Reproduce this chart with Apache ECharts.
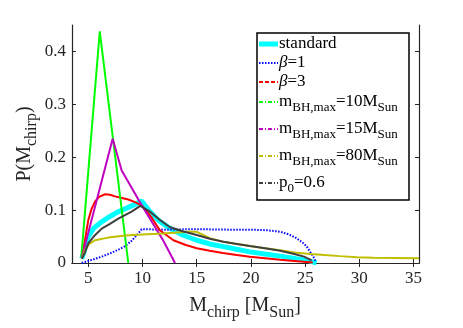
<!DOCTYPE html>
<html>
<head>
<meta charset="utf-8">
<script src="https://cdn.jsdelivr.net/npm/echarts@6/dist/echarts.min.js"></script>
<style>
  html, body { margin: 0; padding: 0; background: #fff; }
  #chart { width: 463px; height: 328px; }
</style>
</head>
<body>
<div id="chart"></div>
<script>
// tick labels
var xTicks = [5, 10, 15, 20, 25, 30, 35];
var yTicks = [0, 0.1, 0.2, 0.3, 0.4];

// curves, [M_chirp, P]
var standard = [[4.4, 0.008], [4.7, 0.028], [5.0, 0.05], [5.5, 0.066], [6.24, 0.078], [7.0, 0.088], [7.77, 0.097],
  [9.0, 0.108], [9.93, 0.117], [10.7, 0.097], [11.5, 0.08], [12.5, 0.066], [13.7, 0.053], [15.0, 0.043],
  [16.2, 0.036], [17.46, 0.031], [18.7, 0.026], [19.9, 0.021], [21.3, 0.017], [22.7, 0.013], [24.2, 0.008],
  [25.2, 0.005], [25.7, 0.002], [26.05, 0.0]];
var beta1 = [[4.4, 0.0], [4.7, 0.002], [5.5, 0.007], [6.24, 0.012], [7.0, 0.018], [7.77, 0.025], [8.4, 0.032],
  [9.0, 0.042], [9.5, 0.053], [9.93, 0.064], [12, 0.063], [15, 0.064], [18, 0.063], [20, 0.063], [21.5, 0.062],
  [22.7, 0.059], [23.5, 0.054], [24.2, 0.047], [24.8, 0.038], [25.15, 0.031], [25.5, 0.02], [25.76, 0.012],
  [26.0, 0.002]];
var beta3 = [[4.4, 0.01], [4.75, 0.05], [5.0, 0.081], [5.3, 0.102], [5.62, 0.116], [6.0, 0.125], [6.54, 0.130],
  [7.0, 0.129], [7.47, 0.126], [8.1, 0.123], [8.7, 0.12], [9.3, 0.115], [9.93, 0.109], [10.7, 0.09],
  [11.6, 0.062], [12.85, 0.043], [14.0, 0.034], [15.0, 0.028], [16.2, 0.023], [17.4, 0.019], [18.7, 0.015],
  [19.9, 0.012], [21.3, 0.009], [22.7, 0.006], [24.0, 0.004], [25.15, 0.002], [25.7, 0.001]];
var mMax10 = [[4.36, 0.012], [6.06, 0.438], [8.69, 0.0]];
var mMax15 = [[4.4, 0.01], [7.25, 0.235], [8.08, 0.175], [9.93, 0.109], [11.9, 0.043], [13.0, 0.0]];
var mMax80 = [[4.4, 0.008], [4.7, 0.025], [5.1, 0.036], [5.62, 0.043], [6.85, 0.048], [8.4, 0.052], [9.93, 0.054],
  [11.9, 0.056], [14.1, 0.059], [15.0, 0.059], [15.6, 0.053], [16.2, 0.047], [17.46, 0.04], [18.7, 0.036],
  [19.9, 0.032], [21.3, 0.028], [22.7, 0.024], [24.0, 0.02], [25.5, 0.017], [26.8, 0.015], [28.2, 0.013],
  [29.8, 0.011], [31.3, 0.010], [33.3, 0.0095], [35.5, 0.009]];
var p06 = [[4.4, 0.008], [4.7, 0.02], [5.0, 0.037], [5.5, 0.05], [6.24, 0.065], [7.0, 0.074], [7.77, 0.084],
  [9.0, 0.097], [9.8, 0.108], [10.7, 0.097], [11.5, 0.083], [12.5, 0.068], [13.7, 0.06], [15.0, 0.053],
  [16.2, 0.046], [17.46, 0.040], [18.7, 0.036], [19.9, 0.032], [21.3, 0.028], [22.7, 0.023], [24.0, 0.017],
  [24.9, 0.012], [25.6, 0.005]];

var serif = "Liberation Serif";
var axisColor = "#262626";

var chart = echarts.init(document.getElementById("chart"));

function line(name, data, color, width, type) {
  return {
    name: name,
    type: "line",
    data: data,
    showSymbol: false,
    silent: true,
    animation: false,
    lineStyle: { color: color, width: width, type: type || "solid" }
  };
}

// legend entries drawn by hand (matlab style box)
var legendRows = [
  { text: "standard", color: "#00ffff", width: 5, dash: null, y: 44 },
  { text: "{g|β}=1", color: "#0000ff", width: 2, dash: [1.5, 1.5], y: 63 },
  { text: "{g|β}=3", color: "#ff0000", width: 2, dash: [4, 2], y: 82 },
  { text: "m{s|BH,max}=10M{s|Sun}", color: "#00ff00", width: 2, dash: [4, 2, 1, 2], y: 102 },
  { text: "m{s|BH,max}=15M{s|Sun}", color: "#bf00bf", width: 2, dash: [4, 2, 1, 2], y: 129 },
  { text: "m{s|BH,max}=80M{s|Sun}", color: "#bfbf00", width: 2, dash: [4, 2, 1, 2], y: 156 },
  { text: "p{s|0}=0.6", color: "#404040", width: 2, dash: [4, 2, 1, 2], y: 183 }
];

var rich = {
  s: { fontFamily: serif, fontSize: 13, padding: [11, 0, 0, 0], fill: "#000" },
  g: { fontFamily: serif, fontSize: 17, fontStyle: "italic", fill: "#000" }
};

var graphics = [{
  type: "rect",
  shape: { x: 257, y: 33, width: 152, height: 167 },
  style: { fill: "#fff", stroke: "#000", lineWidth: 1.5 },
  z: 100
}];
legendRows.forEach(function (r) {
  graphics.push({
    type: "line",
    shape: { x1: 259, y1: r.y, x2: 278, y2: r.y },
    style: { stroke: r.color, lineWidth: r.width, lineDash: r.dash },
    z: 101
  });
  graphics.push({
    type: "text",
    x: 279,
    y: r.y,
    style: {
      text: r.text,
      rich: rich,
      font: "17px " + serif,
      fill: "#000",
      verticalAlign: "middle"
    },
    z: 101
  });
});

// axis titles
graphics.push({
  type: "text",
  x: 245,
  y: 306,
  style: {
    text: "M{s|chirp} [M{s|Sun}]",
    font: "20px " + serif,
    fill: axisColor,
    align: "center",
    verticalAlign: "middle",
    rich: { s: { fontFamily: serif, fontSize: 16, padding: [13, 0, 0, 0], fill: axisColor } }
  }
});
graphics.push({
  type: "text",
  x: 25,
  y: 144,
  rotation: Math.PI / 2,
  style: {
    text: "P(M{s|chirp})",
    font: "20px " + serif,
    fill: axisColor,
    align: "center",
    verticalAlign: "middle",
    rich: { s: { fontFamily: serif, fontSize: 16, padding: [13, 0, 0, 0], fill: axisColor } }
  }
});

var xMin = 3.5, xMax = 35.5, yMin = 0, yMax = 0.45;

var option = {
  animation: false,
  backgroundColor: "#fff",
  grid: { left: 72, right: 44, top: 25, bottom: 65 },
  xAxis: [
    {
      type: "value",
      min: xMin,
      max: xMax,
      axisLine: { show: true, lineStyle: { color: axisColor, width: 1.2 } },
      axisTick: { show: true, inside: true, length: 4, customValues: xTicks, lineStyle: { color: axisColor } },
      axisLabel: { customValues: xTicks, fontFamily: serif, fontSize: 17, color: axisColor, margin: 7 },
      splitLine: { show: false }
    },
    {
      type: "value",
      position: "top",
      min: xMin,
      max: xMax,
      axisLine: { show: true, lineStyle: { color: axisColor, width: 1.2 } },
      axisTick: { show: true, inside: true, length: 4, customValues: xTicks, lineStyle: { color: axisColor } },
      axisLabel: { show: false },
      splitLine: { show: false }
    }
  ],
  yAxis: [
    {
      type: "value",
      min: yMin,
      max: yMax,
      axisLine: { show: true, lineStyle: { color: axisColor, width: 1.2 } },
      axisTick: { show: true, inside: true, length: 4, customValues: yTicks, lineStyle: { color: axisColor } },
      axisLabel: { customValues: yTicks, fontFamily: serif, fontSize: 17, color: axisColor, margin: 6 },
      splitLine: { show: false }
    },
    {
      type: "value",
      position: "right",
      min: yMin,
      max: yMax,
      axisLine: { show: true, lineStyle: { color: axisColor, width: 1.2 } },
      axisTick: { show: true, inside: true, length: 4, customValues: yTicks, lineStyle: { color: axisColor } },
      axisLabel: { show: false },
      splitLine: { show: false }
    }
  ],
  series: [
    line("standard", standard, "#00ffff", 5),
    line("beta=1", beta1, "#0000ff", 2, [1.5, 1.5]),
    line("beta=3", beta3, "#ff0000", 2),
    line("mBH10", mMax10, "#00ff00", 2),
    line("mBH15", mMax15, "#bf00bf", 2),
    line("mBH80", mMax80, "#bfbf00", 2),
    line("p0", p06, "#404040", 2)
  ],
  graphic: graphics
};

chart.setOption(option);
</script>
</body>
</html>
